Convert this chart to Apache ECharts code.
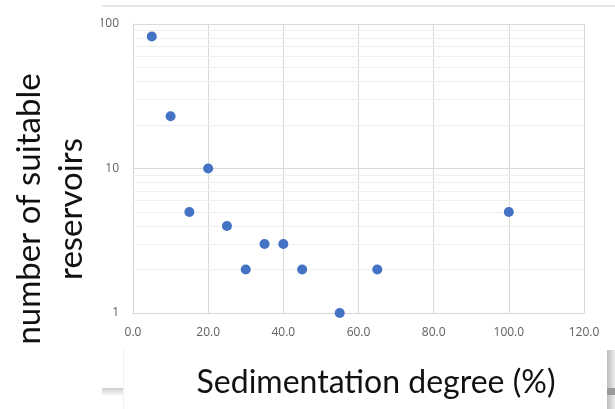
<!DOCTYPE html>
<html>
<head>
<meta charset="utf-8">
<script src="https://cdn.jsdelivr.net/npm/echarts@6/dist/echarts.min.js"></script>
<style>
  html, body { margin: 0; padding: 0; background: #fff; }
  #chart { width: 615px; height: 409px; }
</style>
</head>
<body>
<div id="chart"></div>
<script>
// sedimentation degree (%) vs number of suitable reservoirs
var degree = [5, 10, 15, 20, 25, 30, 35, 40, 45, 55, 65, 100];
var reservoirs = [82, 23, 5, 10, 4, 2, 3, 3, 2, 1, 2, 5];
var yMinor = [2, 3, 4, 5, 6, 7, 8, 9, 20, 30, 40, 50, 60, 70, 80, 90];
var xTitle = 'Sedimentation degree (%)';
var yTitle = 'number of suitable\nreservoirs';

var chart = echarts.init(document.getElementById('chart'));

var points = [];
for (var i = 0; i < degree.length; i++) {
  points.push([degree[i], reservoirs[i]]);
}

var titleFont = 'Lato, "Liberation Sans", sans-serif';
var tickFont = '"Open Sans", "Liberation Sans", sans-serif';

option = {
  animation: false,
  grid: { left: 133, right: 31, top: 24, bottom: 96 },
  xAxis: {
    type: 'value',
    min: 0,
    max: 120,
    interval: 20,
    axisLine: { show: true, lineStyle: { color: '#d4d4d4' } },
    axisTick: { show: false },
    splitLine: { show: true, lineStyle: { color: '#dadada' } },
    axisLabel: {
      margin: 14,
      color: '#606060',
      fontSize: 12,
      fontFamily: tickFont,
      formatter: function (v) { return v.toFixed(1); }
    }
  },
  yAxis: {
    type: 'log',
    logBase: 10,
    min: 1,
    max: 100,
    axisLine: { show: true, lineStyle: { color: '#d4d4d4' } },
    axisTick: { show: false },
    splitLine: { show: true, lineStyle: { color: '#dadada' } },
    axisLabel: {
      margin: 14,
      color: '#606060',
      fontSize: 12,
      fontFamily: tickFont
    }
  },
  series: [
    {
      type: 'scatter',
      data: points,
      symbolSize: 10,
      itemStyle: { color: '#4472C4', opacity: 1 },
      z: 5,
      markLine: {
        silent: true,
        symbol: ['none', 'none'],
        label: { show: false },
        lineStyle: { color: '#efefef', width: 1, type: 'solid' },
        emphasis: { disabled: true },
        data: yMinor.map(function (v) { return { yAxis: v }; })
      }
    }
  ],
  graphic: [
    // white box hiding the left part of the labels
    { type: 'rect', z: 100, shape: { x: 0, y: 0, width: 101, height: 350 }, style: { fill: '#fff' } },
    // thin grey line at the top
    { type: 'rect', z: 100, shape: { x: 102, y: 5, width: 513, height: 2 }, style: { fill: '#e6e6e6' } },
    // shadow of the title box
    { type: 'rect', z: 100, shape: { x: 102, y: 388, width: 21, height: 7 },
      style: { fill: new echarts.graphic.LinearGradient(0, 0, 0, 1, [
        { offset: 0, color: '#d0d0d0' }, { offset: 1, color: '#f4f4f4' }]) } },
    { type: 'rect', z: 100, shape: { x: 607, y: 350, width: 8, height: 59 },
      style: { fill: new echarts.graphic.LinearGradient(0, 0, 1, 0, [
        { offset: 0, color: '#bdbdbd' }, { offset: 1, color: '#ececec' }]) } },
    { type: 'rect', z: 100, shape: { x: 607, y: 388, width: 8, height: 7 }, style: { fill: '#9a9a9a' } },
    { type: 'rect', z: 100, shape: { x: 123, y: 348, width: 1, height: 61 }, style: { fill: '#f2f2f2' } },
    // axis titles
    {
      type: 'text', z: 101, x: 50, y: 209, rotation: Math.PI / 2,
      style: {
        text: yTitle, fill: '#111', font: '33px ' + titleFont,
        textAlign: 'center', textVerticalAlign: 'middle', lineHeight: 42
      }
    },
    {
      type: 'text', z: 101, x: 376, y: 383,
      style: {
        text: xTitle, fill: '#111', font: '32px ' + titleFont,
        textAlign: 'center', textVerticalAlign: 'middle'
      }
    }
  ]
};

chart.setOption(option);
</script>
</body>
</html>
